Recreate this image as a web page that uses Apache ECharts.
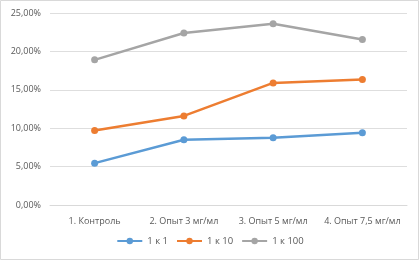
<!DOCTYPE html>
<html><head><meta charset="utf-8">
<script src="https://cdn.jsdelivr.net/npm/echarts@6/dist/echarts.min.js"></script>
<style>html,body{margin:0;padding:0;background:#fff}#c{width:420px;height:261px}</style>
</head><body><div id="c"></div>
<script>
const categories = ["1. Контроль", "2. Опыт 3 мг/мл", "3. Опыт 5 мг/мл", "4. Опыт 7,5 мг/мл"];
const seriesNames = ["1 к 1", "1 к 10", "1 к 100"];
const s1 = [5.45, 8.5, 8.75, 9.4];
const s10 = [9.7, 11.6, 15.9, 16.35];
const s100 = [18.9, 22.4, 23.6, 21.55];
const yTicks = [0, 5, 10, 15, 20, 25];
const colors = ["#5B9BD5", "#ED7D31", "#A5A5A5"];
const font = "'Open Sans', 'Noto Sans', sans-serif";
const chart = echarts.init(document.getElementById('c'), null, {renderer: 'canvas'});
const mk = (name, data, color) => ({
  name, type: 'line', data, color,
  symbol: 'circle', symbolSize: 7,
  lineStyle: {width: 2.5, color}, itemStyle: {color},
  animation: false
});
chart.setOption({
  animation: false,
  textStyle: {fontFamily: font},
  graphic: [{type: 'rect', shape: {x: 0.5, y: 0.5, width: 418, height: 259}, style: {fill: 'none', stroke: '#D9D9D9', lineWidth: 1}, silent: true}],
  grid: {left: 50, right: 13, top: 13, bottom: 56, containLabel: false},
  xAxis: {
    type: 'category', data: categories, boundaryGap: true,
    axisLine: {show: true, lineStyle: {color: '#D9D9D9'}}, axisTick: {show: false},
    axisLabel: {color: '#595959', fontSize: 9, margin: 12, interval: 0, fontFamily: font}
  },
  yAxis: {
    type: 'value', min: yTicks[0], max: yTicks[yTicks.length - 1], interval: 5,
    axisLine: {show: false}, axisTick: {show: false},
    splitLine: {lineStyle: {color: '#DEDEDE', width: 1}},
    axisLabel: {color: '#595959', fontSize: 9, margin: 9, fontFamily: font,
      formatter: v => v.toFixed(2).replace('.', ',') + '%'}
  },
  legend: {
    bottom: 10, left: 'center', itemWidth: 25, itemHeight: 8, itemGap: 8,
    textStyle: {color: '#595959', fontSize: 9.5, fontFamily: font},
    data: seriesNames
  },
  series: [mk(seriesNames[0], s1, colors[0]), mk(seriesNames[1], s10, colors[1]), mk(seriesNames[2], s100, colors[2])]
});
</script></body></html>
